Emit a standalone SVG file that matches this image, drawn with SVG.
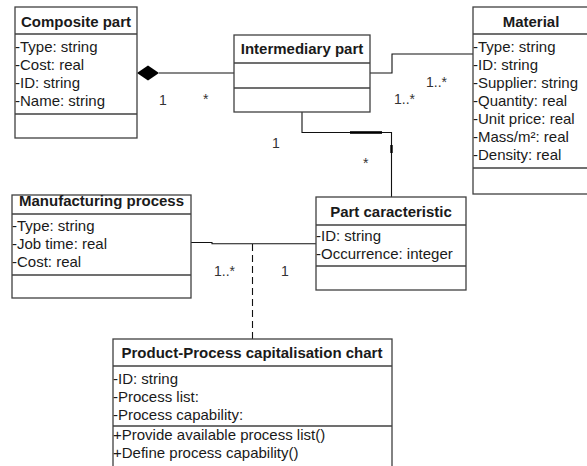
<svg xmlns="http://www.w3.org/2000/svg" width="587" height="466" viewBox="0 0 587 466">
  <style>
    .box { fill: #ffffff; stroke: #404040; stroke-width: 1.3; }
    .div { stroke: #404040; stroke-width: 1.3; }
    .title { font-family: "Liberation Sans", Arial, sans-serif; font-size: 15px; font-weight: bold; fill: #1a1a1a; text-anchor: middle; }
    .attr { font-family: "Liberation Sans", Arial, sans-serif; font-size: 15px; fill: #1a1a1a; }
    .mult { font-family: "Liberation Sans", Arial, sans-serif; font-size: 14px; fill: #333333; }
    .conn { fill: none; stroke: #111111; stroke-width: 1.1; }
  </style>
  <rect width="587" height="466" fill="#ffffff"/>

  <!-- connectors -->
  <g id="connectors">
    <!-- composition: Composite part to Intermediary part -->
    <line class="conn" x1="159" y1="73" x2="234" y2="73"/>
    <polygon points="137,73 148,65.5 159,73 148,80.5" fill="#000000"/>
    <!-- Intermediary part to Material -->
    <polyline class="conn" points="370,73 392,73 392,54 473,54"/>
    <!-- Intermediary part to Part caracteristic -->
    <polyline class="conn" points="302,112 302,132.5 391.5,132.5 391.5,197"/>
    <line x1="350" y1="132.5" x2="382" y2="132.5" stroke="#000000" stroke-width="2.6"/>
    <line x1="391.5" y1="145" x2="391.5" y2="153" stroke="#000000" stroke-width="2.4"/>
    <!-- Manufacturing process to Part caracteristic -->
    <polyline class="conn" points="191,242.5 212,242.5 212,243.8 316,243.8"/>
    <!-- association class link -->
    <line class="conn" x1="252.5" y1="244" x2="252.5" y2="339" stroke-dasharray="7,4"/>

    <text class="mult" x="159" y="105">1</text>
    <text class="mult" x="203" y="104">*</text>
    <text class="mult" x="426" y="87">1..*</text>
    <text class="mult" x="394" y="104">1..*</text>
    <text class="mult" x="272" y="148">1</text>
    <text class="mult" x="363" y="168">*</text>
    <text class="mult" x="214" y="276">1..*</text>
    <text class="mult" x="281" y="276">1</text>
  </g>

  <!-- Composite part -->
  <g id="composite-part">
    <rect class="box" x="15" y="7" width="122" height="131"/>
    <line class="div" x1="15" y1="34" x2="137" y2="34"/>
    <line class="div" x1="15" y1="114" x2="137" y2="114"/>
    <text class="title" x="76" y="27">Composite part</text>
    <text class="attr" x="15" y="52">-Type: string</text>
    <text class="attr" x="15" y="70">-Cost: real</text>
    <text class="attr" x="15" y="88">-ID: string</text>
    <text class="attr" x="15" y="106">-Name: string</text>
  </g>

  <!-- Intermediary part -->
  <g id="intermediary-part">
    <rect class="box" x="234" y="35" width="136" height="77"/>
    <line class="div" x1="234" y1="63" x2="370" y2="63"/>
    <line class="div" x1="234" y1="88" x2="370" y2="88"/>
    <text class="title" x="302" y="54">Intermediary part</text>
  </g>

  <!-- Material -->
  <g id="material">
    <rect class="box" x="473" y="7" width="118" height="187"/>
    <line class="div" x1="473" y1="34" x2="591" y2="34"/>
    <line class="div" x1="473" y1="168" x2="591" y2="168"/>
    <text class="title" x="531" y="27">Material</text>
    <text class="attr" x="473" y="52">-Type: string</text>
    <text class="attr" x="473" y="70">-ID: string</text>
    <text class="attr" x="473" y="88">-Supplier: string</text>
    <text class="attr" x="473" y="106">-Quantity: real</text>
    <text class="attr" x="473" y="124">-Unit price: real</text>
    <text class="attr" x="473" y="142">-Mass/m²: real</text>
    <text class="attr" x="473" y="160">-Density: real</text>
  </g>

  <!-- Manufacturing process -->
  <g id="manufacturing-process">
    <rect class="box" x="12" y="195" width="179" height="103"/>
    <line class="div" x1="12" y1="214" x2="191" y2="214"/>
    <line class="div" x1="12" y1="275" x2="191" y2="275"/>
    <text class="title" x="101.5" y="206">Manufacturing process</text>
    <text class="attr" x="12" y="231">-Type: string</text>
    <text class="attr" x="12" y="249">-Job time: real</text>
    <text class="attr" x="12" y="267">-Cost: real</text>
  </g>

  <!-- Part caracteristic -->
  <g id="part-caracteristic">
    <rect class="box" x="316" y="197" width="150" height="93"/>
    <line class="div" x1="316" y1="225" x2="466" y2="225"/>
    <line class="div" x1="316" y1="266" x2="466" y2="266"/>
    <text class="title" x="391" y="217">Part caracteristic</text>
    <text class="attr" x="316" y="241">-ID: string</text>
    <text class="attr" x="316" y="259">-Occurrence: integer</text>
  </g>

  <!-- Product-Process capitalisation chart -->
  <g id="capitalisation-chart">
    <rect class="box" x="113" y="339" width="279" height="135"/>
    <line class="div" x1="113" y1="366" x2="392" y2="366"/>
    <line class="div" x1="113" y1="426" x2="392" y2="426"/>
    <text class="title" x="252" y="358">Product-Process capitalisation chart</text>
    <text class="attr" x="113" y="384">-ID: string</text>
    <text class="attr" x="113" y="402">-Process list:</text>
    <text class="attr" x="113" y="420">-Process capability:</text>
    <text class="attr" x="113" y="440">+Provide available process list()</text>
    <text class="attr" x="113" y="458">+Define process capability()</text>
  </g>
</svg>
